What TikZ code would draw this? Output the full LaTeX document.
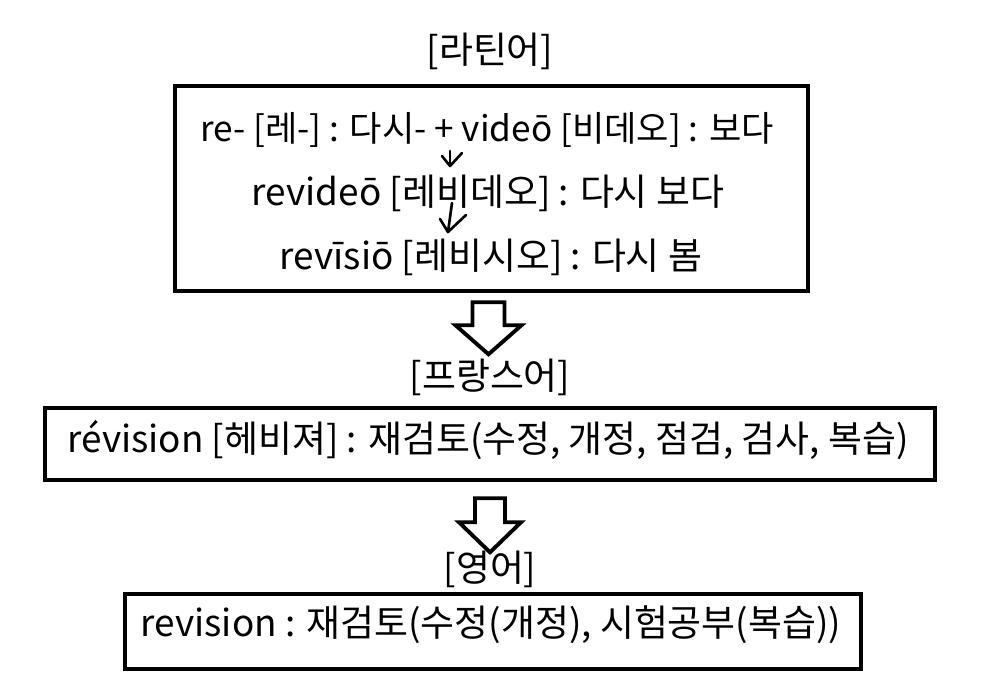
\documentclass[tikz,border=0pt]{standalone}
\usepackage{fontspec}
\setmainfont{Noto Sans CJK KR}
\usetikzlibrary{calc}

\begin{document}
\begin{tikzpicture}[x=0.02cm,y=-0.02cm,
  box/.style={draw,line width=2.6pt,inner sep=0pt},
  word/.style={inner sep=0pt,anchor=base,font=\fontsize{21}{25}\selectfont},
  hollow/.style={draw,line width=2.2pt,line join=miter,fill=white},
  hand/.style={line width=1.5pt,line cap=round,line join=round}]
\useasboundingbox (0,0) rectangle (995,692);
% boxes
\node[box,minimum width=12.66cm,minimum height=4.1cm] (latbox) at (491.5,188.5) {};
\node[box,minimum width=17.8cm,minimum height=1.44cm] (frbox) at (490,444) {};
\node[box,minimum width=14.72cm,minimum height=1.5cm] (enbox) at (493,631.5) {};
% titles
\node[word] (lat) at (490,64) {[라틴어]};
\node[word] (fr) at (490,390) {[프랑스어]};
\node[word] (en) at (490,582) {[영어]};
% latin lines
\node[word,font=\fontsize{20}{24}\selectfont] (re) at (487,142) {re- [레-] : 다시- + videō [비데오] : 보다};
\node[word] (revideo) at (488,206) {revideō [레비데오] : 다시 보다};
\node[word] (revisio) at (491,270) {revīsiō [레비시오] : 다시 봄};
\node[word] (revfr) at (488,453) {révision [헤비져] : 재검토(수정, 개정, 점검, 검사, 복습)};
\node[word] (reven) at (491,637) {revision : 재검토(수정(개정), 시험공부(복습))};
% small hand arrows
\coordinate (t1) at (450,166);
\coordinate (t2) at (448,232);
\draw[hand] (450,151) -- (t1);
\draw[hand] (442,156) -- (t1) -- (462,153);
\draw[hand] (452,203) -- (t2);
\draw[hand] (440,219) -- (t2) -- (466,215);
% hollow arrows
\coordinate (arrA) at ($(latbox.south)+(-3,9)$);
\coordinate (arrB) at ($(frbox.south)+(0,16)$);
\draw[hollow,shift={(arrA)}] (-16,0) -- (-16,23) -- (-33,23) -- (0,52) -- (33,23) -- (16,23) -- (16,0) -- cycle;
\draw[hollow,shift={(arrB)}] (-15,0) -- (-15,24) -- (-31,24) -- (0,54) -- (31,24) -- (15,24) -- (15,0) -- cycle;
\end{tikzpicture}
\end{document}
